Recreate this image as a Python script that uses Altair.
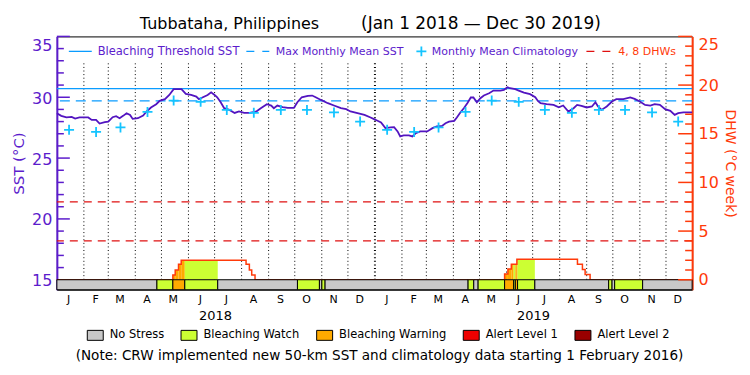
import altair as alt
import pandas as pd

# ---------------- data ----------------
START = pd.Timestamp("2018-01-01")

# daily SST (day offset from 2018-01-01, deg C)
SST_DAY = [0, 5, 11, 17, 21, 26, 36, 40, 45, 49, 55, 59, 64, 68, 72, 76, 80, 84, 87, 93,
           99, 103, 108, 114, 118, 124, 129, 134, 143, 148, 154, 160, 163, 167, 173, 177, 181, 184, 188, 192,
           198, 204, 209, 215, 221, 229, 234, 241, 246, 249, 253, 259, 265, 272, 276, 281, 288, 293, 297, 303,
           311, 318, 326, 332, 337, 345, 353, 360, 364, 368, 372, 377, 383, 387, 391, 394, 398, 404, 408, 412,
           417, 425, 431, 436, 442, 446, 450, 456, 459, 463, 467, 471, 475, 478, 482, 486, 490, 496, 501, 509,
           513, 517, 520, 526, 530, 536, 543, 549, 552, 555, 562, 570, 576, 581, 587, 593, 597, 602, 608, 614,
           618, 621, 625, 631, 637, 642, 650, 658, 663, 669, 675, 681, 686, 692, 698, 704, 709, 713, 719, 729]
SST_VAL = [28.69, 28.47, 28.34, 28.39, 28.25, 28.34, 28.34, 28.14, 28.14, 27.84, 27.95, 28.00, 28.36, 28.44, 28.28, 28.47, 28.69, 28.55, 28.22, 28.28,
           28.50, 28.83, 29.16, 29.43, 29.70, 29.84, 30.19, 30.66, 30.66, 30.27, 30.19, 30.06, 29.84, 29.98, 30.19, 30.41, 30.19, 30.00, 29.59, 29.10,
           28.96, 28.71, 28.83, 28.71, 28.71, 28.83, 29.10, 29.43, 29.32, 29.10, 29.32, 29.18, 29.12, 29.12, 29.59, 30.00, 30.11, 30.14, 30.00, 29.78,
           29.51, 29.32, 29.10, 29.02, 28.83, 28.69, 28.55, 28.34, 28.20, 28.07, 27.93, 27.46, 27.52, 27.54, 27.19, 26.78, 26.86, 26.86, 26.78, 27.05,
           27.19, 27.19, 27.46, 27.60, 27.65, 27.87, 28.00, 28.06, 28.34, 28.75, 29.10, 29.51, 29.98, 29.98, 29.59, 29.92, 30.14, 30.33, 30.55, 30.55,
           30.60, 30.82, 30.74, 30.66, 30.55, 30.38, 30.25, 30.00, 29.70, 29.51, 29.43, 29.37, 29.18, 29.32, 28.83, 29.10, 29.37, 29.29, 29.16, 29.24,
           29.59, 29.24, 28.96, 29.24, 29.65, 29.84, 29.84, 29.98, 29.86, 29.65, 29.37, 29.32, 29.43, 29.37, 29.02, 28.88, 28.55, 28.69, 28.75, 28.75]

# monthly mean climatology (Jan..Dec), repeated for each year
YEARS = [2018, 2019]
CLIM_VAL = [27.32, 27.15, 27.52, 28.79, 29.73, 29.62, 28.96, 28.72, 28.96, 28.96, 28.75, 28.00]
BLEACHING_THRESHOLD = 30.71
MAX_MONTHLY_MEAN = 29.71
DHW_LEVELS = [4, 8]

# Degree Heating Weeks, step changes (day offset, DHW)
DHW_DAY = [0, 133.1, 135.8, 139.6, 142.7, 217.1, 220.9, 223.6, 227.4,
           513.8, 517.6, 521.5, 527.9, 597.4, 603.1, 606.2, 611.9, 729]
DHW_VAL = [0, 0.5, 1.0, 1.6, 2.0, 1.6, 1.0, 0.5, 0,
           0.6, 1.1, 1.6, 2.1, 1.6, 1.05, 0.55, 0, 0]

# daily stress level segments
SEG_START = [0, 114.8, 133.1, 146.8, 184.6, 276.1, 301.3, 304.1, 307.8, 471.9, 478.4,
             483.4, 513.8, 524.2, 526.1, 528.7, 548.5, 633.2, 637.1, 640.1, 672.2]
SEG_END = [114.8, 133.1, 146.8, 184.6, 276.1, 301.3, 304.1, 307.8, 471.9, 478.4, 483.4,
           513.8, 524.2, 526.1, 528.7, 548.5, 633.2, 637.1, 640.1, 672.2, 729]
SEG_STATUS = ["No Stress", "Bleaching Watch", "Bleaching Warning", "Bleaching Watch", "No Stress",
              "Bleaching Watch", "No Stress", "Bleaching Watch", "No Stress", "Bleaching Watch", "No Stress",
              "Bleaching Watch", "Bleaching Warning", "Bleaching Watch", "Bleaching Warning", "Bleaching Watch",
              "No Stress", "Bleaching Watch", "No Stress", "Bleaching Watch", "No Stress"]

STATUS_NAMES = ["No Stress", "Bleaching Watch", "Bleaching Warning", "Alert Level 1", "Alert Level 2"]
STATUS_COLORS = ["#c8c8c8", "#ccff33", "#ffaa00", "#ee0000", "#990000"]

MONTH_LABELS = ["J", "F", "M", "A", "M", "J", "J", "A", "S", "O", "N", "D"]
SST_MAJOR = [15, 20, 25, 30, 35]
SST_MINOR = [v for v in range(16, 35) if v % 5]
DHW_MAJOR = [0, 5, 10, 15, 20, 25]
DHW_MINOR = [v for v in range(1, 25) if v % 5]

TITLE_LEFT = "Tubbataha, Philippines"
TITLE_RIGHT = "(Jan 1 2018 \u2014 Dec 30 2019)"
TOP_LEGEND = ["Bleaching Threshold SST", "Max Monthly Mean SST", "Monthly Mean Climatology", "4, 8 DHWs"]
NOTE = "(Note: CRW implemented new 50-km SST and climatology data starting 1 February 2016)"

# ---------------- styling ----------------
W, H = 637, 254
SST_DOMAIN = [14.18, 35.0]
DHW_DOMAIN = [-1.025, 25.0]
FONT = "DejaVu Sans"
PURPLE = "#5c1ccc"
SST_LINE = "#5214c0"
BLUE = "#0a9cff"
CYAN = "#14c4ff"
DHWC = "#ff3a0a"
RED = "#e01010"
CROSS = "M-1,0L1,0M0,-1L0,1"


def iso(d):
    return (START + pd.Timedelta(days=float(d))).strftime("%Y-%m-%dT%H:%M:%SZ")


sst_df = pd.DataFrame({"date": [iso(d) for d in SST_DAY], "sst": SST_VAL})
clim_df = pd.DataFrame({
    "date": [f"{y}-{m:02d}-15T00:00:00Z" for y in YEARS for m in range(1, 13)],
    "sst": CLIM_VAL * len(YEARS),
})
mstarts = pd.date_range("2018-02-01", "2019-12-01", freq="MS")
month_df = pd.DataFrame({
    "date": [d.strftime("%Y-%m-%dT00:00:00Z") for d in mstarts],
    "w": [2 if d.month == 1 else 1 for d in mstarts],
})
year_df = pd.DataFrame({"s": [f"{y}-07-02T00:00:00Z" for y in YEARS], "year": [str(y) for y in YEARS]})
dhw_df = pd.DataFrame({"s": [iso(d) for d in DHW_DAY], "v": DHW_VAL})
seg_df = pd.DataFrame({"s": [iso(d) for d in SEG_START], "e": [iso(d) for d in SEG_END], "status": SEG_STATUS})


def step_at(t):
    v = DHW_VAL[0]
    for d, val in zip(DHW_DAY, DHW_VAL):
        if d <= t:
            v = val
    return v


def status_at(t):
    for s, e, st in zip(SEG_START, SEG_END, SEG_STATUS):
        if s <= t < e:
            return st
    return "No Stress"


edges = sorted(set(SEG_START + SEG_END + DHW_DAY))
rows = []
for a, b in zip(edges[:-1], edges[1:]):
    m = (a + b) / 2
    st, v = status_at(m), step_at(m)
    if st != "No Stress" and v > 0:
        rows.append({"s": iso(a), "e": iso(b), "v": v, "status": st})
fill_df = pd.DataFrame(rows)

# ---------------- scales & axes ----------------
x_scale = alt.Scale(type="utc", domain=[alt.DateTime(year=2018, month=1, date=1, utc=True),
                                        alt.DateTime(year=2019, month=12, date=31, utc=True)])
sst_scale = alt.Scale(domain=SST_DOMAIN, nice=False, zero=False)
dhw_scale = alt.Scale(domain=DHW_DOMAIN, nice=False, zero=False)
color_scale = alt.Scale(domain=STATUS_NAMES, range=STATUS_COLORS)

label_expr = "[" + ",".join(f"'{m}'" for m in MONTH_LABELS) + "][utcmonth(datum.value)]"
x_axis = alt.Axis(values=[alt.DateTime(year=y, month=m, date=14, utc=True) for y in YEARS for m in range(1, 13)],
                  labelExpr=label_expr, ticks=False, domain=False, grid=False, title=None,
                  labelFont=FONT, labelFontSize=11, labelColor="black", labelPadding=4,
                  labelOverlap=False, labelFlush=False, labelAngle=0)
sst_axis = alt.Axis(orient="left", values=SST_MAJOR, ticks=False, grid=False, domainColor=PURPLE, domainWidth=2,
                    labelColor=PURPLE, labelFont=FONT, labelFontSize=16, labelPadding=5, labelFlush=True,
                    labelOffset=1, title="SST (\u00b0C)", titleColor=PURPLE, titleFont=FONT, titleFontSize=15,
                    titleFontWeight="normal", titlePadding=5)
dhw_axis = alt.Axis(orient="right", values=DHW_MAJOR, ticks=False, grid=False, domainColor=DHWC, domainWidth=2,
                    labelColor=DHWC, labelFont=FONT, labelFontSize=16, labelPadding=6, labelFlush=True,
                    title="DHW (\u00b0C week)", titleColor=DHWC, titleFont=FONT, titleFontSize=14,
                    titleFontWeight="normal", titlePadding=4)
status_legend = alt.Legend(orient="none", legendX=30, legendY=291, direction="horizontal", title=None,
                           symbolType="M-1,-0.625H1V0.625H-1Z", symbolSize=256, symbolStrokeColor="black",
                           symbolStrokeWidth=1, symbolOpacity=1, labelFont=FONT, labelFontSize=11.5,
                           labelColor="black", labelOffset=6, columnPadding=14, padding=0)


def X(f):
    return alt.X(f, scale=x_scale, axis=x_axis)


def YS(f):
    return alt.Y(f, scale=sst_scale, axis=sst_axis)


def YD(f):
    return alt.Y(f, scale=dhw_scale, axis=dhw_axis)


# ---------------- SST group (left axis) ----------------
grid = alt.Chart(month_df).mark_rule(color="black", strokeDash=[1, 2.6]).encode(
    x=X("date:T"), y=alt.YDatum(15, scale=sst_scale, axis=sst_axis), y2=alt.value(27),
    strokeWidth=alt.StrokeWidth("w:Q", scale=None))
tmaj = alt.Chart(pd.DataFrame({"sst": SST_MAJOR})).mark_rule(color=PURPLE, strokeWidth=1.5).encode(
    x=alt.value(0), x2=alt.value(13), y=YS("sst:Q"))
tmin = alt.Chart(pd.DataFrame({"sst": SST_MINOR})).mark_rule(color=PURPLE, strokeWidth=1.5).encode(
    x=alt.value(0), x2=alt.value(7), y=YS("sst:Q"))
bt = alt.Chart(pd.DataFrame({"sst": [BLEACHING_THRESHOLD]})).mark_rule(color=BLUE, strokeWidth=1.3).encode(
    y=YS("sst:Q"))
mmm = alt.Chart(pd.DataFrame({"sst": [MAX_MONTHLY_MEAN]})).mark_rule(color=BLUE, strokeWidth=1.3, strokeDash=[10, 6]).encode(
    y=YS("sst:Q"))
sst_line = alt.Chart(sst_df).mark_line(color=SST_LINE, strokeWidth=1.8).encode(
    x=X("date:T"), y=YS("sst:Q"))
crosses = alt.Chart(clim_df).mark_point(
    shape=CROSS, filled=False, color=CYAN, strokeWidth=1.8, size=100, opacity=1).encode(
    x=X("date:T"), y=YS("sst:Q"))

one = lambda t: pd.DataFrame({"t": [t]})
lg_bt = alt.Chart(one(TOP_LEGEND[0])).mark_rule(color=BLUE, strokeWidth=1.3).encode(
    x=alt.value(12), x2=alt.value(35), y=alt.value(15))
lg_mmm = alt.Chart(one(TOP_LEGEND[1])).mark_rule(color=BLUE, strokeWidth=1.3, strokeDash=[8, 8]).encode(
    x=alt.value(190), x2=alt.value(213), y=alt.value(15))
lg_cross = alt.Chart(one(TOP_LEGEND[2])).mark_point(shape=CROSS, filled=False, color=CYAN, strokeWidth=1.8, size=100, opacity=1).encode(
    x=alt.value(365.5), y=alt.value(15))
lg_dhw = alt.Chart(one(TOP_LEGEND[3])).mark_rule(color=RED, strokeWidth=1.3, strokeDash=[8, 8]).encode(
    x=alt.value(531), x2=alt.value(556), y=alt.value(15))


def ltext(t, x, color, size=11):
    return alt.Chart(one(t)).mark_text(align="left", baseline="alphabetic", font=FONT, fontSize=size, color=color).encode(
        text="t:N", x=alt.value(x), y=alt.value(19))


lg_texts = [ltext(TOP_LEGEND[0], 41, PURPLE, 11.5), ltext(TOP_LEGEND[1], 219.5, PURPLE),
            ltext(TOP_LEGEND[2], 376, PURPLE), ltext(TOP_LEGEND[3], 563, DHWC)]

sst_group = alt.layer(grid, tmaj, tmin, bt, mmm, sst_line, crosses, lg_bt, lg_mmm, lg_cross, lg_dhw, *lg_texts)

# ---------------- DHW group (right axis) ----------------
fill = alt.Chart(fill_df).mark_rect().encode(
    x=X("s:T"), x2="e:T", y=YD("v:Q"), y2=alt.Y2Datum(0),
    color=alt.Color("status:N", scale=color_scale, legend=status_legend))
dhw_line = alt.Chart(dhw_df).mark_line(interpolate="step-after", color=DHWC, strokeWidth=1.5).encode(
    x=X("s:T"), y=YD("v:Q"))
band = alt.Chart(seg_df).mark_rect(stroke="black", strokeWidth=1).encode(
    x=X("s:T"), x2="e:T", y=alt.YDatum(0, scale=dhw_scale, axis=dhw_axis), y2=alt.value(H),
    color=alt.Color("status:N", scale=color_scale, legend=status_legend))
levels = alt.Chart(pd.DataFrame({"v": DHW_LEVELS})).mark_rule(color=RED, strokeWidth=1.3, strokeDash=[8, 6]).encode(
    y=YD("v:Q"))
rmaj = alt.Chart(pd.DataFrame({"v": DHW_MAJOR})).mark_rule(color=DHWC, strokeWidth=1.5).encode(
    x=alt.value(W), x2=alt.value(W - 14), y=YD("v:Q"))
rmin = alt.Chart(pd.DataFrame({"v": DHW_MINOR})).mark_rule(color=DHWC, strokeWidth=1.5).encode(
    x=alt.value(W), x2=alt.value(W - 7), y=YD("v:Q"))
years = alt.Chart(year_df).mark_text(baseline="alphabetic", font=FONT, fontSize=13, color="black").encode(
    x=X("s:T"), y=alt.value(284.7), text="year:N")
t_left = alt.Chart(one(TITLE_LEFT)).mark_text(align="right", baseline="alphabetic", font=FONT, fontSize=16, color="black").encode(
    text="t:N", x=alt.value(263), y=alt.value(-7.7))
t_right = alt.Chart(one(TITLE_RIGHT)).mark_text(align="left", baseline="alphabetic", font=FONT, fontSize=17, color="black").encode(
    text="t:N", x=alt.value(305), y=alt.value(-7.7))
note = alt.Chart(one(NOTE)).mark_text(align="center", baseline="alphabetic", font=FONT, fontSize=13.6, color="black").encode(
    text="t:N", x=alt.value(323.5), y=alt.value(324))

dhw_group = alt.layer(fill, dhw_line, band, levels, rmaj, rmin, years, t_left, t_right, note)

chart = alt.layer(sst_group, dhw_group).resolve_scale(y="independent").properties(
    width=W, height=H,
    padding={"left": 49, "top": 28, "right": 50, "bottom": 80},
    autosize=alt.AutoSizeParams(type="none"),
).configure(font=FONT).configure_view(stroke="black", strokeWidth=1)

chart.save("out.html", embed_options={"renderer": "svg", "actions": False})
